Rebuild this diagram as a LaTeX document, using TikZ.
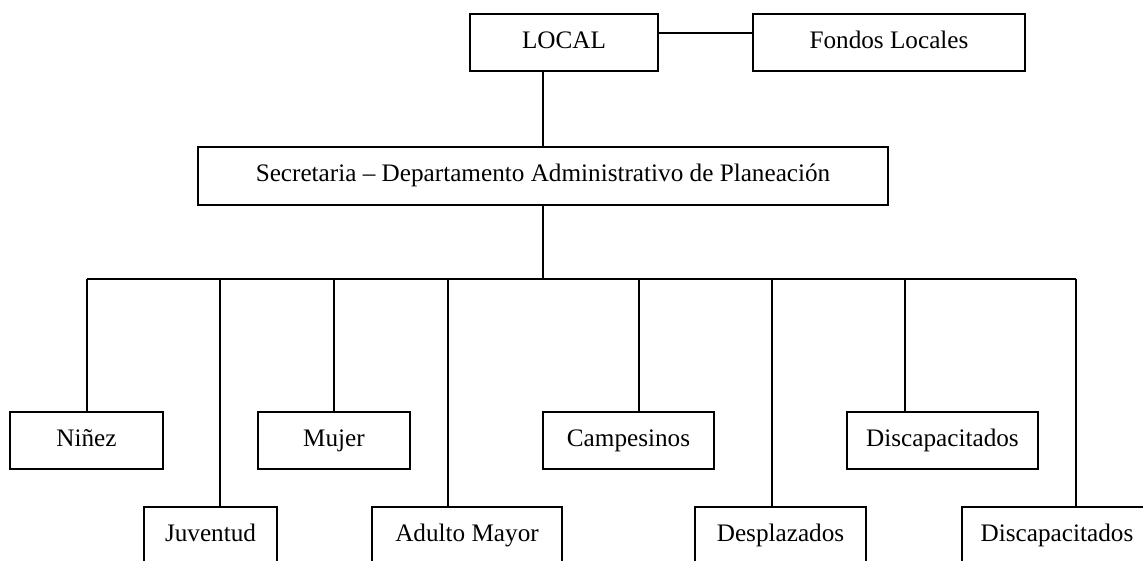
\documentclass[tikz,border=0pt]{standalone}
\usepackage{fontspec}
\setmainfont{Liberation Serif}
\usepackage{tikz}
\usetikzlibrary{positioning,calc}

\begin{document}
\begin{tikzpicture}[
    x=1pt, y=-1pt,
    line width=1.4pt,
    unit/.style={rectangle, draw, fill=white, minimum height=57pt, inner sep=0pt,
        text height=17pt, text depth=5pt, font=\fontsize{25.2}{29}\selectfont}
]
\useasboundingbox (0,0) rectangle (1143,561);
\clip (0,0) rectangle (1143,561);

% Top level
\node[unit, minimum width=188pt] (local) at (564,42.5) {LOCAL};
\node[unit, minimum width=272pt] (fondos) at (889,42.5) {Fondos Locales};
\node[unit, minimum width=690pt, minimum height=58pt] (secre) at (543,176) {Secretaria -- Departamento Administrativo de Planeación};

% Upper row
\node[unit, minimum width=153pt] (ninez) at (86.5,440.5) {Niñez};
\node[unit, minimum width=152pt] (mujer) at (334,440.5) {Mujer};
\node[unit, minimum width=171pt] (campesinos) at (628.5,440.5) {Campesinos};
\node[unit, minimum width=191pt] (discapA) at (942.5,440.5) {Discapacitados};

% Lower row
\node[unit, minimum width=133pt] (juventud) at (210.5,535.5) {Juventud};
\node[unit, minimum width=190pt] (adulto) at (467,535.5) {Adulto Mayor};
\node[unit, minimum width=171pt] (desplazados) at (780.5,535.5) {Desplazados};
\node[unit, minimum width=190pt] (discapB) at (1057,535.5) {Discapacitados};

% Bus taps
\coordinate (bus) at (543,279);
\coordinate (tN) at (87,279);
\coordinate (tJ) at (220,279);
\coordinate (tM) at (334,279);
\coordinate (tA) at (448,279);
\coordinate (tC) at (639,279);
\coordinate (tD) at (772,279);
\coordinate (tDA) at (905,279);
\coordinate (tDB) at (1076,279);

% Connectors
\draw ([yshift=9.5pt]local.east) -- ([yshift=9.5pt]fondos.west);
\draw (secre.north) -- (secre.north |- local.south);
\draw (secre.south) -- (bus);
\draw (tN) -- (tDB);
\draw (tN) -- (tN |- ninez.north);
\draw (tJ) -- (tJ |- juventud.north);
\draw (tM) -- (tM |- mujer.north);
\draw (tA) -- (tA |- adulto.north);
\draw (tC) -- (tC |- campesinos.north);
\draw (tD) -- (tD |- desplazados.north);
\draw (tDA) -- (tDA |- discapA.north);
\draw (tDB) -- (tDB |- discapB.north);

\end{tikzpicture}
\end{document}
